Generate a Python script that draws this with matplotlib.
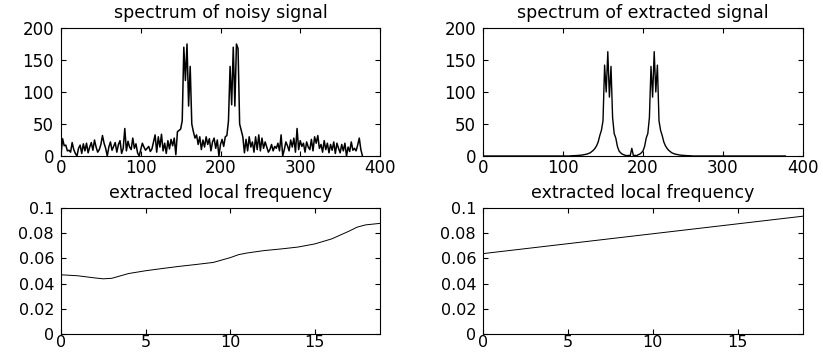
import numpy as np
import matplotlib
matplotlib.use('Agg')
import matplotlib.pyplot as plt

plt.rcParams['font.family'] = ['DejaVu Sans']

# spectrum bins (every second bin)
freq_bins = np.arange(0, 380, 2)

noisy_spectrum = [
    2, 27, 16, 17, 8, 9, 6, 21, 10, 4,
    0, 12, 17, 4, 19, 8, 20, 5, 14, 21,
    9, 25, 14, 6, 10, 18, 32, 20, 12, 0,
    14, 22, 9, 15, 21, 6, 18, 24, 4, 12,
    43, 8, 23, 14, 10, 28, 12, 19, 5, 0,
    10, 20, 14, 9, 12, 15, 7, 11, 22, 33,
    6, 30, 14, 34, 8, 20, 4, 24, 11, 26,
    16, 28, 2, 38, 40, 42, 55, 170, 118, 175,
    78, 140, 50, 38, 28, 33, 18, 30, 10, 25,
    14, 30, 18, 27, 8,
    22, 28, 12, 25, 0, 18, 26, 15, 30, 32,
    55, 140, 80, 170, 78, 175, 168, 50, 40, 30,
    5, 26, 8, 30, 14, 22, 6, 30, 10, 33,
    8, 28, 12, 22, 14, 6, 10, 18, 8, 15,
    12, 20, 8, 33, 0, 10, 22, 16, 8, 25,
    14, 28, 6, 43, 10, 24, 15, 20, 6, 22,
    14, 10, 26, 8, 30, 20, 32, 12, 18, 6,
    24, 10, 20, 5, 18, 9, 22, 4, 20, 12,
    5, 18, 8, 20, 0, 14, 7, 22, 9, 12,
    8, 17, 28, 10, 0,
]

extracted_spectrum = [
    0, 0, 0, 0, 0, 0, 0, 0, 0, 0,
    0, 0, 0, 0, 0, 0, 0, 0, 0, 0,
    0, 0, 0, 0, 0, 0, 0, 0, 0, 0,
    0, 0, 0, 0, 0, 0, 0, 0, 0, 0,
    0, 0, 0, 0, 0, 0, 0, 0, 0, 0,
    0, 0, 0, 0, 0, 0.3, 0.4, 0.5, 0.6, 0.8,
    1, 1.2, 1.5, 2, 2.5, 3, 4, 5, 7, 9,
    12, 16, 22, 32, 40, 55, 142, 100, 163, 92,
    140, 60, 35, 28, 15, 8, 5, 3, 2, 1,
    0.5, 1, 0.3, 12, 0.5,
    1, 0.5, 2, 3, 5, 8, 15, 28, 35, 60,
    140, 92, 163, 100, 142, 55, 40, 32, 22, 16,
    12, 9, 7, 5, 4, 3, 2.5, 2, 1.5, 1.2,
    1, 0.8, 0.6, 0.5, 0.4, 0.3, 0, 0, 0, 0,
    0, 0, 0, 0, 0, 0, 0, 0, 0, 0,
    0, 0, 0, 0, 0, 0, 0, 0, 0, 0,
    0, 0, 0, 0, 0, 0, 0, 0, 0, 0,
    0, 0, 0, 0, 0, 0, 0, 0, 0, 0,
    0, 0, 0, 0, 0, 0, 0, 0, 0, 0,
    0, 0, 0, 0, 0,
]

# local frequency vs time
time_noisy = [0, 1, 2, 2.5, 3, 4, 5, 6, 7, 8, 9, 10, 10.5, 11, 12, 13, 14, 15, 16, 17, 17.5, 18, 18.85]
freq_noisy = [0.0470, 0.0462, 0.0445, 0.0438, 0.0442, 0.0480, 0.0502, 0.0520, 0.0537, 0.0552, 0.0568,
              0.0606, 0.0630, 0.0643, 0.0662, 0.0675, 0.0690, 0.0715, 0.0755, 0.0815, 0.0848, 0.0866, 0.0878]
time_clean = [0, 18.85]
freq_clean = [0.0638, 0.0935]

spec_xticks = [0, 100, 200, 300, 400]
spec_yticks = [0, 50, 100, 150, 200]
lf_xticks = [0, 5, 10, 15]
lf_yticks = [0, 0.02, 0.04, 0.06, 0.08, 0.1]
lf_yticklabels = ['0', '0.02', '0.04', '0.06', '0.08', '0.1']

fig = plt.figure(figsize=(8.23, 3.54), dpi=100)
W, H = 823.0, 354.0

def make_ax(l, t, r, b):
    return fig.add_axes([l / W, 1 - b / H, (r - l) / W, (b - t) / H])

def style(ax, size, xpad):
    ax.tick_params(direction='in', top=True, right=True, length=3.5, width=0.8,
                   labelsize=size, colors='black')
    ax.tick_params(axis='y', pad=5)
    ax.tick_params(axis='x', pad=xpad)
    for s in ax.spines.values():
        s.set_linewidth(0.8)

ax1 = make_ax(61, 28, 380, 156)
ax2 = make_ax(483, 28, 803, 156)
ax3 = make_ax(61, 208, 380, 334)
ax4 = make_ax(483, 208, 803, 334)

ax1.plot(freq_bins, noisy_spectrum, color='black', lw=1.1)
ax1.set_title('spectrum of noisy signal', fontsize=12.5, pad=7)
ax2.plot(freq_bins, extracted_spectrum, color='black', lw=1.0)
ax2.set_title('spectrum of extracted signal', fontsize=12.5, pad=7)
for ax in (ax1, ax2):
    ax.set_xlim(0, 400)
    ax.set_ylim(0, 200)
    ax.set_xticks(spec_xticks)
    ax.set_yticks(spec_yticks)
    style(ax, 12, 2)

ax3.plot(time_noisy, freq_noisy, color='black', lw=0.7)
ax4.plot(time_clean, freq_clean, color='black', lw=0.7)
for ax in (ax3, ax4):
    ax.set_title('extracted local frequency', fontsize=12.5, pad=7)
    ax.set_xlim(0, 18.85)
    ax.set_ylim(0, 0.1)
    ax.set_xticks(lf_xticks)
    ax.set_yticks(lf_yticks)
    ax.set_yticklabels(lf_yticklabels)
    style(ax, 11.5, 0.5)

fig.savefig('out.png', dpi=100)
